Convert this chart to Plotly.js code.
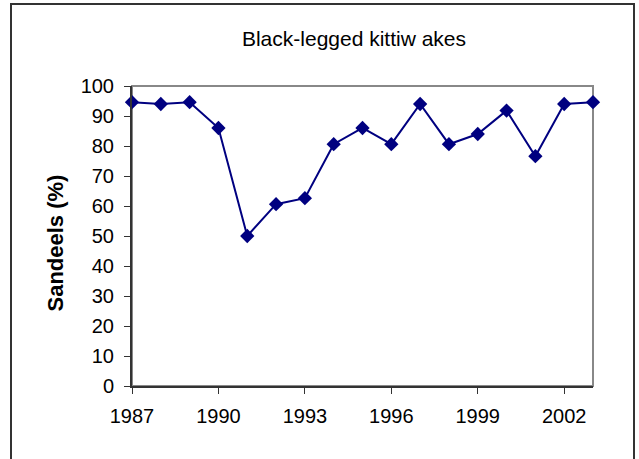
<!DOCTYPE html>
<html>
<head>
<meta charset="utf-8">
<script src="https://cdn.plot.ly/plotly-3.0.1.min.js"></script>
<style>
  html, body { margin: 0; padding: 0; background: #fff; }
  #wrap { position: relative; width: 639px; height: 459px; overflow: hidden; }
  #chart { width: 639px; height: 459px; }
  #frame { position: absolute; left: 10px; top: 3px; width: 625px; height: 470px;
           border: 2px solid #333; pointer-events: none; box-sizing: border-box; }
</style>
</head>
<body>
<div id="wrap">
  <div id="chart"></div>
  <div id="frame"></div>
</div>
<script>
const years = [1987, 1988, 1989, 1990, 1991, 1992, 1993, 1994, 1995, 1996, 1997, 1998, 1999, 2000, 2001, 2002, 2003];
const sandeels = [94.6, 94, 94.6, 86, 50, 60.6, 62.6, 80.6, 86, 80.6, 94, 80.6, 84, 91.8, 76.6, 94, 94.6];
const xTicks = [1987, 1990, 1993, 1996, 1999, 2002];
const yTicks = [0, 10, 20, 30, 40, 50, 60, 70, 80, 90, 100];
const chartTitle = 'Black-legged kittiw akes';
const yTitle = 'Sandeels (%)';

const font = 'Arial, "Liberation Sans", sans-serif';
const L = 132, R = 46, T = 86, B = 73, W = 639, H = 459;
const pw = W - L - R, ph = H - T - B;

Plotly.newPlot('chart', [{
  x: years,
  y: sandeels,
  type: 'scatter',
  mode: 'lines+markers',
  line: { color: '#000080', width: 2 },
  marker: { symbol: 'diamond', size: 11, color: '#000080' },
  cliponaxis: false,
  hoverinfo: 'skip'
}], {
  width: W, height: H,
  margin: { l: L, r: R, t: T, b: B },
  paper_bgcolor: 'rgba(0,0,0,0)',
  plot_bgcolor: '#fff',
  showlegend: false,
  font: { family: font, size: 20, color: '#000' },
  title: { text: chartTitle, x: 0.554, xanchor: 'center', y: 0.915, yanchor: 'middle',
           font: { family: font, size: 21, color: '#000' } },
  xaxis: {
    range: [1987, 2003], tickvals: xTicks, ticktext: xTicks.map(String),
    showgrid: false, zeroline: false, showline: true, linecolor: '#333', linewidth: 2,
    ticks: 'outside', ticklen: 6, tickcolor: '#333', tickwidth: 1,
    ticklabelstandoff: 5,
    tickfont: { family: font, size: 20, color: '#000' }
  },
  yaxis: {
    range: [0, 100], tickvals: yTicks, ticktext: yTicks.map(String),
    showgrid: false, zeroline: false, showline: true, linecolor: '#333', linewidth: 2,
    ticks: 'outside', ticklen: 6, tickcolor: '#333', tickwidth: 1,
    ticklabelstandoff: 6,
    tickfont: { family: font, size: 20, color: '#000' }
  },
  annotations: [{
    text: '<b>' + yTitle + '</b>', textangle: -90, showarrow: false,
    xref: 'paper', yref: 'paper',
    x: (55 - L) / pw, y: (H - B - 243.5) / ph,
    xanchor: 'center', yanchor: 'middle',
    font: { family: font, size: 22, color: '#000' }
  }],
  shapes: [{
    type: 'rect', xref: 'paper', yref: 'paper', x0: 0, x1: 1, y0: 0, y1: 1,
    line: { color: '#888', width: 2 }, layer: 'below'
  }]
}, { displayModeBar: false, staticPlot: true });
</script>
</body>
</html>
